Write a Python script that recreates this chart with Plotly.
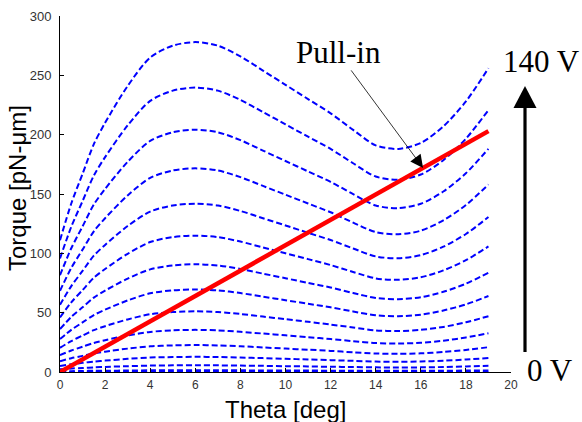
import plotly.graph_objects as go

# Rotation angle samples [deg]
theta_deg = [0, 0.5, 1, 1.5, 2, 3, 4, 5, 6, 7, 8, 9, 10, 11, 12, 13, 14, 15, 16, 17, 18, 19]

# Electrostatic torque [pN-um] for each drive voltage
torque_140v = [111, 142, 167, 192, 210, 241, 265, 275, 278, 275, 266, 254, 242, 230, 218, 204, 191, 188, 193, 207, 228, 256]
torque_130v = [95.7, 122.4, 144.0, 165.5, 181.1, 207.8, 228.5, 237.1, 239.7, 237.1, 229.3, 219.0, 208.7, 198.3, 188.0, 175.9, 164.7, 162.1, 166.4, 178.5, 196.6, 220.7]
torque_120v = [81.6, 104.3, 122.7, 141.1, 154.3, 177.1, 194.7, 202.0, 204.2, 202.0, 195.4, 186.6, 177.8, 169.0, 160.2, 149.9, 140.3, 138.1, 141.8, 152.1, 167.5, 188.1]
torque_110v = [68.5, 87.7, 103.1, 118.5, 129.6, 148.8, 163.6, 169.8, 171.6, 169.8, 164.2, 156.8, 149.4, 142.0, 134.6, 125.9, 117.9, 116.1, 119.1, 127.8, 140.7, 158.0]
torque_100v = [56.6, 72.4, 85.2, 98.0, 107.1, 123.0, 135.2, 140.3, 141.8, 140.3, 135.7, 129.6, 123.5, 117.3, 111.2, 104.1, 97.4, 95.9, 98.5, 105.6, 116.3, 130.6]
torque_90v = [45.9, 58.7, 69.0, 79.4, 86.8, 99.6, 109.5, 113.7, 114.9, 113.7, 109.9, 105.0, 100.0, 95.1, 90.1, 84.3, 78.9, 77.7, 79.8, 85.6, 94.2, 105.8]
torque_80v = [36.2, 46.4, 54.5, 62.7, 68.6, 78.7, 86.5, 89.8, 90.8, 89.8, 86.8, 82.9, 79.0, 75.1, 71.2, 66.6, 62.4, 61.4, 63.0, 67.6, 74.4, 83.6]
torque_70v = [27.8, 35.5, 41.8, 48.0, 52.5, 60.3, 66.3, 68.8, 69.5, 68.8, 66.5, 63.5, 60.5, 57.5, 54.5, 51.0, 47.8, 47.0, 48.3, 51.8, 57.0, 64.0]
torque_60v = [20.4, 26.1, 30.7, 35.3, 38.6, 44.3, 48.7, 50.5, 51.1, 50.5, 48.9, 46.7, 44.5, 42.3, 40.0, 37.5, 35.1, 34.5, 35.5, 38.0, 41.9, 47.0]
torque_50v = [14.2, 18.1, 21.3, 24.5, 26.8, 30.8, 33.8, 35.1, 35.5, 35.1, 33.9, 32.4, 30.9, 29.3, 27.8, 26.0, 24.4, 24.0, 24.6, 26.4, 29.1, 32.7]
torque_40v = [9.1, 11.6, 13.6, 15.7, 17.1, 19.7, 21.6, 22.4, 22.7, 22.4, 21.7, 20.7, 19.7, 18.8, 17.8, 16.6, 15.6, 15.3, 15.7, 16.9, 18.6, 20.9]
torque_30v = [5.1, 6.5, 7.7, 8.8, 9.6, 11.1, 12.2, 12.6, 12.8, 12.6, 12.2, 11.7, 11.1, 10.6, 10.0, 9.4, 8.8, 8.6, 8.9, 9.5, 10.5, 11.8]
torque_20v = [2.3, 2.9, 3.4, 3.9, 4.3, 4.9, 5.4, 5.6, 5.7, 5.6, 5.4, 5.2, 4.9, 4.7, 4.4, 4.2, 3.9, 3.8, 3.9, 4.2, 4.7, 5.2]
torque_10v = [0.6, 0.7, 0.9, 1.0, 1.1, 1.2, 1.4, 1.4, 1.4, 1.4, 1.4, 1.3, 1.2, 1.2, 1.1, 1.0, 1.0, 1.0, 1.0, 1.1, 1.2, 1.3]
torque_0v = [0] * len(theta_deg)

voltage_curves = [
    ("140 V", torque_140v), ("130 V", torque_130v), ("120 V", torque_120v),
    ("110 V", torque_110v), ("100 V", torque_100v), ("90 V", torque_90v),
    ("80 V", torque_80v), ("70 V", torque_70v), ("60 V", torque_60v),
    ("50 V", torque_50v), ("40 V", torque_40v), ("30 V", torque_30v),
    ("20 V", torque_20v), ("10 V", torque_10v), ("0 V", torque_0v),
]

# Mechanical restoring torque of the spring (straight line)
spring_theta = [0, 19]
spring_torque = [0, 203]

# Axis ticks
x_ticks = [0, 2, 4, 6, 8, 10, 12, 14, 16, 18, 20]
y_ticks = [0, 50, 100, 150, 200, 250, 300]

# Pull-in marker position on the spring line
pullin_theta = 16.1
pullin_torque = 172

fig = go.Figure()

for name, values in voltage_curves:
    fig.add_trace(go.Scatter(
        x=theta_deg, y=values, mode="lines", name=name,
        line=dict(color="#0000ff", width=2, dash="6px,3px", shape="spline", smoothing=0.8),
        showlegend=False,
    ))

fig.add_trace(go.Scatter(
    x=spring_theta, y=spring_torque, mode="lines", name="spring",
    line=dict(color="#ff0000", width=4.5),
    showlegend=False,
))

# Plot area in pixels: left 60, right 511, top 16, bottom 372
L, R, T, B = 60, 71, 16, 50
W, H = 582, 422
pw, ph = W - L - R, H - T - B


def px_x(p):
    return (p - L) / pw


def px_y(p):
    return (H - B - p) / ph


serif = "Liberation Serif, Times New Roman, serif"
sans = "Liberation Sans, Arial, sans-serif"

annotations = [
    # Axis titles
    dict(x=px_x(285), y=px_y(409), xref="paper", yref="paper",
         text="Theta [deg]", showarrow=False,
         font=dict(family=sans, size=24, color="#000000"),
         xanchor="center", yanchor="middle"),
    dict(x=px_x(18), y=px_y(188), xref="paper", yref="paper",
         text="Torque [pN-μm]", showarrow=False, textangle=-90,
         font=dict(family=sans, size=24, color="#000000"),
         xanchor="center", yanchor="middle"),
    # Pull-in label and its pointer
    dict(x=pullin_theta, y=pullin_torque, xref="x", yref="y",
         ax=-73, ay=-99, axref="pixel", ayref="pixel",
         text="", showarrow=True, arrowhead=2, arrowsize=3.2, arrowwidth=0.8,
         arrowcolor="#000000"),
    dict(x=px_x(338), y=px_y(52), xref="paper", yref="paper",
         text="Pull-in", showarrow=False,
         font=dict(family=serif, size=31, color="#000000"),
         xanchor="center", yanchor="middle"),
    # Voltage sweep labels
    dict(x=px_x(541), y=px_y(61), xref="paper", yref="paper",
         text="140 V", showarrow=False,
         font=dict(family=serif, size=31, color="#000000"),
         xanchor="center", yanchor="middle"),
    dict(x=px_x(550), y=px_y(370), xref="paper", yref="paper",
         text="0 V", showarrow=False,
         font=dict(family=serif, size=31, color="#000000"),
         xanchor="center", yanchor="middle"),
]

shapes = [
    # Voltage sweep arrow: shaft and head
    dict(type="line", xref="paper", yref="paper",
         x0=px_x(525), x1=px_x(525), y0=px_y(352), y1=px_y(106),
         line=dict(color="#000000", width=3.2)),
    dict(type="path", xref="paper", yref="paper",
         path=(f"M {px_x(513.5)} {px_y(108)} L {px_x(536.5)} {px_y(108)} "
               f"L {px_x(525)} {px_y(86)} Z"),
         fillcolor="#000000", line=dict(color="#000000", width=0)),
]

fig.update_layout(
    width=W, height=H,
    margin=dict(l=L, r=R, t=T, b=B, pad=0, autoexpand=False),
    paper_bgcolor="#ffffff", plot_bgcolor="#ffffff",
    showlegend=False,
    annotations=annotations,
    shapes=shapes,
)

fig.update_xaxes(
    range=[0, 20], tickvals=x_ticks, ticktext=[str(v) for v in x_ticks],
    showgrid=False, zeroline=False, showline=True, linecolor="#000000", linewidth=1,
    ticks="inside", ticklen=4, tickcolor="#000000", mirror=False,
    tickfont=dict(family=sans, size=12, color="#333333"),
    ticklabelstandoff=2, automargin=False,
)
fig.update_yaxes(
    range=[0, 300], tickvals=y_ticks, ticktext=[str(v) for v in y_ticks],
    showgrid=False, zeroline=False, showline=True, linecolor="#000000", linewidth=1,
    ticks="inside", ticklen=4, tickcolor="#000000", mirror=False,
    tickfont=dict(family=sans, size=13, color="#333333"),
    ticklabelstandoff=5, automargin=False,
)

fig.write_html("out.html")
